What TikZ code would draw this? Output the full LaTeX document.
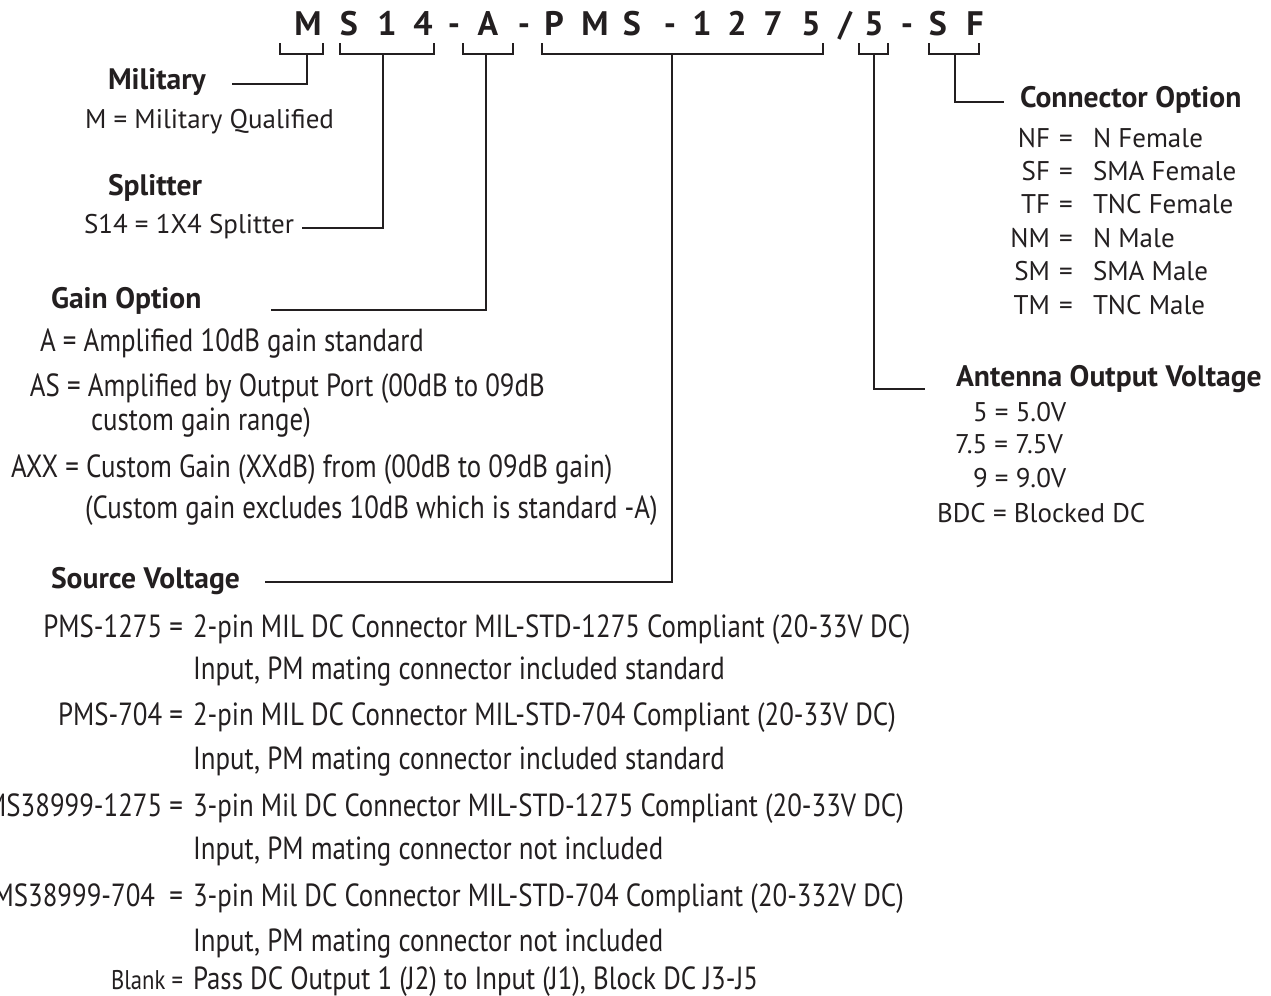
\documentclass[tikz,border=0pt]{standalone}
\usepackage{fontspec}
\setmainfont{PT Sans}
\newfontfamily\narrowfont{PT Sans}[FakeStretch=0.84]
\newfontfamily\codefont{PT Sans Bold}
\definecolor{keyink}{HTML}{231F20}

\begin{document}
\begin{tikzpicture}[x=0.5pt, y=-0.5pt, inner sep=0pt, outer sep=0pt,
  codechar/.style={font=\fontsize{17}{19}\selectfont\codefont, text=keyink, anchor=base},
  heading/.style={font=\fontsize{14.8}{17}\selectfont\bfseries, text=keyink, anchor=base west},
  entry/.style={font=\fontsize{13.5}{16}\selectfont, text=keyink, anchor=base west},
  longentry/.style={font=\fontsize{16}{18}\selectfont\narrowfont, text=keyink, anchor=base west},
  bracket/.style={draw=keyink, line width=1.3pt}]
  \useasboundingbox (0,0) rectangle (1271,996);
  % part number, one node per character
  \foreach \n/\ch/\cx in {c1/M/308, c2/S/349, c3/1/387, c4/4/423, c5/-/454,
    c6/A/488, c7/-/524, c8/P/554, c9/M/595, c10/S/632, c11/-/670, c12/1/702,
    c13/2/737, c14/7/773, c15/5/811, c16/{/}/845, c17/5/874, c18/-/907,
    c19/S/938, c20/F/975}
    \node[codechar] (\n) at (\cx,35) {\ch};
  % brackets under the groups
  \foreach \n/\l/\r/\s in {mil/280/323/307, spl/340/434/383, gain/463/513/486,
    src/542/823/672, volt/859/888/874, conn/929/979/955}
  {
    \draw[bracket] (\l,43) |- (\r,54) -- (\r,43);
    \coordinate (\n-top) at (\s,54);
  }
  % left headings
  \node[heading] (milhead) at (108,89) {Military};
  \node[entry] (milM) at (85,128) {M = Military Qualified};
  \node[heading] (splhead) at (108,195) {Splitter};
  \node[entry] (splS) at (84,233) {S14 = 1X4 Splitter};
  \node[heading] (gainhead) at (51,308) {Gain Option};
  \node[longentry] (gainA) at (40,351) {A = Amplified 10dB gain standard};
  \node[longentry] (gainAS) at (30,396) {AS = Amplified by Output Port (00dB to 09dB};
  \node[longentry] (gainAS2) at (91,430) {custom gain range)};
  \node[longentry] (gainAXX) at (11,477) {AXX = Custom Gain (XXdB) from (00dB to 09dB gain)};
  \node[longentry] (gainAXX2) at (85,518) {(Custom gain excludes 10dB which is standard -A)};
  \node[heading] (srchead) at (51,588) {Source Voltage};
  % source voltage rows
  \foreach \n/\yy/\code/\desc in {
    srcA/637/{PMS-1275 =}/{2-pin MIL DC Connector MIL-STD-1275 Compliant (20-33V DC)},
    srcB/679/{}/{Input, PM mating connector included standard},
    srcC/725/{PMS-704 =}/{2-pin MIL DC Connector MIL-STD-704 Compliant (20-33V DC)},
    srcD/769/{}/{Input, PM mating connector included standard},
    srcE/816/{MS38999-1275 =}/{3-pin Mil DC Connector MIL-STD-1275 Compliant (20-33V DC)},
    srcF/859/{}/{Input, PM mating connector not included},
    srcG/906/{MS38999-704\ \ =}/{3-pin Mil DC Connector MIL-STD-704 Compliant (20-332V DC)},
    srcH/951/{}/{Input, PM mating connector not included}}
  {
    \node[longentry, anchor=base east] (\n-code) at (183,\yy) {\code};
    \node[longentry] (\n) at (193,\yy) {\desc};
  }
  \node[longentry, font=\fontsize{13.5}{16}\selectfont\narrowfont, anchor=base east] (blankcode) at (183,989) {Blank =};
  \node[longentry] (blank) at (193,989) {Pass DC Output 1 (J2) to Input (J1), Block DC J3-J5};
  % right headings
  \node[heading] (conhead) at (1020,107) {Connector Option};
  \foreach \i/\code/\what in {0/NF/N Female, 1/SF/SMA Female, 2/TF/TNC Female,
    3/NM/N Male, 4/SM/SMA Male, 5/TM/TNC Male}
  {
    \pgfmathsetmacro{\yy}{147+\i*33.4}
    \node[entry, anchor=base east] (con\i) at (1050,\yy) {\code};
    \node[entry, anchor=base] (coneq\i) at (1066,\yy) {=};
    \node[entry] (conval\i) at (1093,\yy) {\what};
  }
  \node[heading] (anthead) at (956,386) {Antenna Output Voltage};
  \node[entry] (ant5) at (973,421) {5 = 5.0V};
  \node[entry] (ant75) at (955,453) {7.5 = 7.5V};
  \node[entry] (ant9) at (973,487) {9 = 9.0V};
  \node[entry] (antBDC) at (937,522) {BDC = Blocked DC};
  % leader ends
  \coordinate (milend) at (232,84);
  \coordinate (splend) at (302,228);
  \coordinate (gainend) at (271,310);
  \coordinate (srcend) at (265,582);
  \coordinate (voltend) at (925,389);
  \coordinate (connend) at (1004,102);
  % leaders
  \draw[bracket] (mil-top) |- (milend);
  \draw[bracket] (spl-top) |- (splend);
  \draw[bracket] (gain-top) |- (gainend);
  \draw[bracket] (src-top) |- (srcend);
  \draw[bracket] (volt-top) |- (voltend);
  \draw[bracket] (conn-top) |- (connend);
\end{tikzpicture}
\end{document}
